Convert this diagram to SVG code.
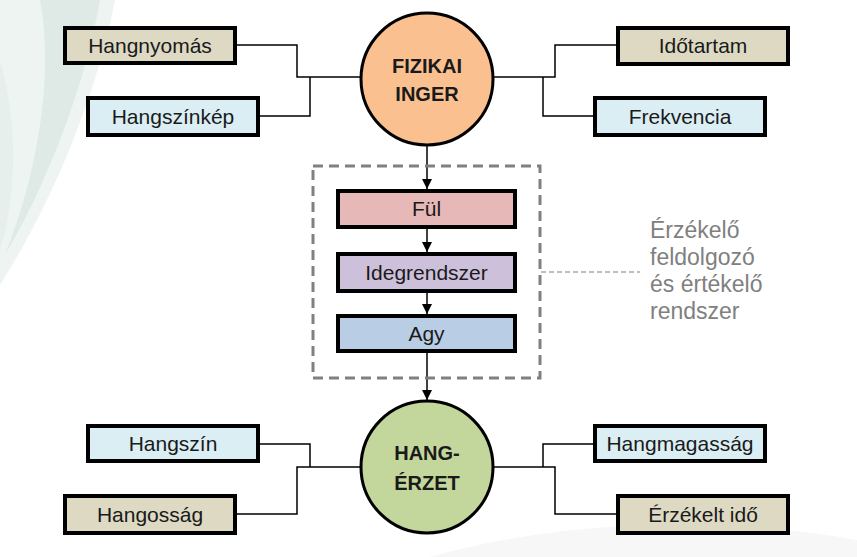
<svg xmlns="http://www.w3.org/2000/svg" width="857" height="557" viewBox="0 0 857 557">
<defs>
<style>
.box{stroke:#000;stroke-width:4}
.tan{fill:#DDD9C3}
.blue{fill:#DBEEF4}
.lbl{font-family:"Liberation Sans",Arial,sans-serif;font-size:21px;fill:#1a1a1a;text-anchor:middle}
.big{font-family:"Liberation Sans",Arial,sans-serif;font-size:20px;font-weight:bold;fill:#1a1a1a;text-anchor:middle}
.circ{stroke:#000;stroke-width:3}
.wire{fill:none;stroke:#000;stroke-width:1.5}
.note{font-family:"Liberation Sans",Arial,sans-serif;font-size:23px;fill:#808080}
</style>
<marker id="arr" viewBox="0 0 10 10" refX="10" refY="5" markerWidth="10" markerHeight="10" markerUnits="userSpaceOnUse" orient="auto">
<path d="M0,0 L10,5 L0,10 Z" fill="#000"/>
</marker>
</defs>
<rect width="857" height="557" fill="#fff"/>
<g id="background">
<path d="M0,0 L115,0 C100,80 60,190 0,285 Z" fill="#EEF4F2"/>
<path d="M40,0 L100,0 C88,70 55,170 5,255 C35,180 55,80 40,0 Z" fill="#DFEAE7"/>
<path d="M0,60 C20,130 15,200 0,250 Z" fill="#E6EFEC"/>
<path d="M430,557 C560,520 720,515 857,540 L857,557 Z" fill="#F7F7F7"/>
</g>
<g id="connectors">
<path class="wire" d="M237,45 H297 V77 H360"/>
<path class="wire" d="M260,116 H310 V77"/>
<path class="wire" d="M494,77 H555 V45 H616"/>
<path class="wire" d="M543,77 V116 H593"/>
<path class="wire" d="M260,444 H310 V467"/>
<path class="wire" d="M237,514 H297 V467 H360"/>
<path class="wire" d="M494,467 H555 V514 H616"/>
<path class="wire" d="M543,467 V444 H593"/>
<line class="wire" x1="427" y1="146" x2="427" y2="189" marker-end="url(#arr)"/>
<line class="wire" x1="427" y1="229" x2="427" y2="252" marker-end="url(#arr)"/>
<line class="wire" x1="427" y1="293" x2="427" y2="314" marker-end="url(#arr)"/>
<line class="wire" x1="427" y1="353" x2="427" y2="400" marker-end="url(#arr)"/>
<line x1="541" y1="272" x2="640" y2="272" stroke="#808080" stroke-width="1.2" stroke-dasharray="5 3"/>
</g>
<g id="group-box">
<rect x="313" y="166" width="227" height="212" fill="none" stroke="#808080" stroke-width="3" stroke-dasharray="10 6"/>
</g>
<g id="fizikai-inger">
<circle class="circ" cx="427" cy="79" r="66" fill="#FAC090"/>
<text class="big" x="427" y="73">FIZIKAI</text>
<text class="big" x="427" y="101">INGER</text>
</g>
<g id="hang-erzet">
<circle class="circ" cx="427" cy="467" r="66" fill="#C3D69B"/>
<text class="big" x="427" y="460">HANG-</text>
<text class="big" x="427" y="490">ÉRZET</text>
</g>
<g id="hangnyomas"><rect class="box tan" x="65" y="28" width="170" height="35"/><text class="lbl" x="150" y="53">Hangnyomás</text></g>
<g id="hangszinkep"><rect class="box blue" x="88" y="98" width="170" height="37"/><text class="lbl" x="173" y="124">Hangszínkép</text></g>
<g id="idotartam"><rect class="box tan" x="618" y="28" width="170" height="36"/><text class="lbl" x="703" y="53">Időtartam</text></g>
<g id="frekvencia"><rect class="box blue" x="595" y="98" width="170" height="37"/><text class="lbl" x="680" y="124">Frekvencia</text></g>
<g id="ful"><rect class="box" fill="#E6B9B8" x="338" y="191" width="177" height="36"/><text class="lbl" x="426.5" y="216">Fül</text></g>
<g id="idegrendszer"><rect class="box" fill="#CCC0DA" x="338" y="254" width="177" height="37"/><text class="lbl" x="426.5" y="280">Idegrendszer</text></g>
<g id="agy"><rect class="box" fill="#B9CDE5" x="338" y="316" width="177" height="35"/><text class="lbl" x="426.5" y="341">Agy</text></g>
<g id="hangszin"><rect class="box blue" x="88" y="426" width="170" height="35"/><text class="lbl" x="173" y="451">Hangszín</text></g>
<g id="hangossag"><rect class="box tan" x="65" y="496" width="170" height="37"/><text class="lbl" x="150" y="522">Hangosság</text></g>
<g id="hangmagassag"><rect class="box blue" x="595" y="426" width="170" height="35"/><text class="lbl" x="680" y="451">Hangmagasság</text></g>
<g id="erzekelt-ido"><rect class="box tan" x="618" y="496" width="170" height="37"/><text class="lbl" x="703" y="522">Érzékelt idő</text></g>
<g id="note">
<text class="note" x="650" y="238">Érzékelő</text>
<text class="note" x="650" y="265">feldolgozó</text>
<text class="note" x="650" y="292">és értékelő</text>
<text class="note" x="650" y="319">rendszer</text>
</g>
</svg>
